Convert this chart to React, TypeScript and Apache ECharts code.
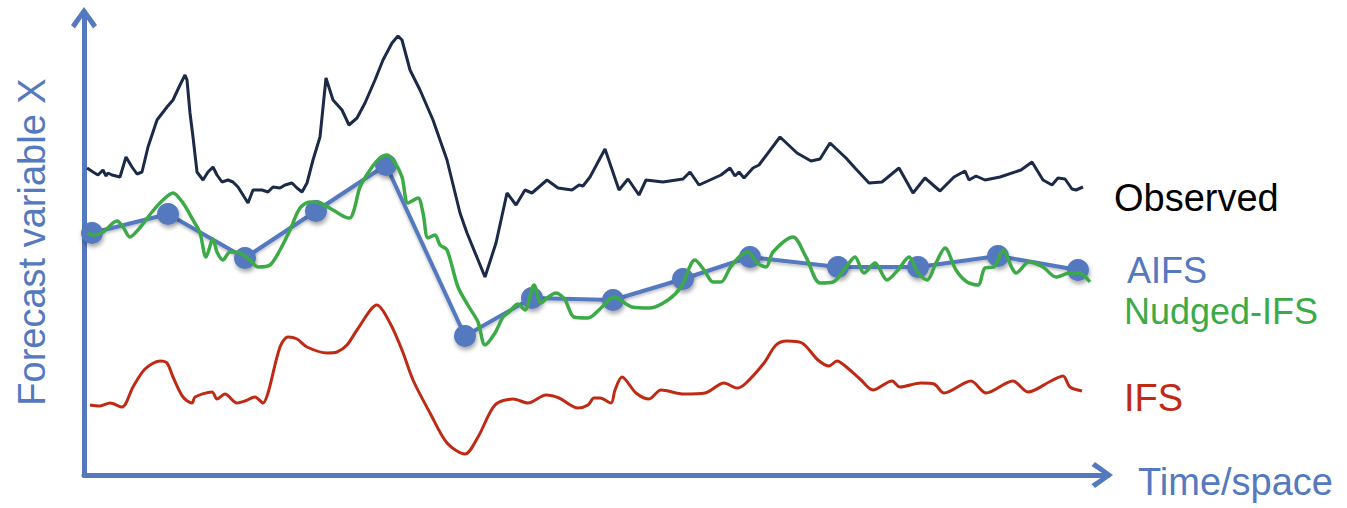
import React, { useEffect, useRef } from "react";
import * as echarts from "echarts";

// [time/space, forecast variable X]
const observed: [number, number][] = [
  [0, 304], [6, 300], [11, 297], [16, 302], [19, 296], [21, 299], [25, 297], [33, 295],
  [39, 315], [45, 305], [50, 298], [55, 300], [61, 325], [70, 352], [80, 365], [86, 372],
  [93, 387], [98, 397], [100, 392], [103, 359], [106, 335], [110, 300], [116, 292], [121, 300],
  [126, 305], [130, 297], [135, 290], [141, 292], [146, 290], [151, 285], [156, 277], [161, 269],
  [166, 282], [175, 282], [181, 280], [186, 285], [193, 284], [198, 287], [205, 289], [210, 284],
  [215, 280], [220, 289], [226, 312], [233, 335], [239, 394], [246, 372], [255, 362], [262, 347],
  [270, 354], [278, 369], [288, 392], [296, 412], [305, 429], [311, 436], [315, 432], [323, 402],
  [333, 382], [346, 352], [360, 312], [373, 259], [380, 239], [398, 195], [409, 229], [420, 279],
  [429, 267], [438, 282], [445, 279], [460, 292], [471, 284], [485, 282], [492, 287], [496, 286],
  [503, 295], [518, 323], [532, 282], [541, 293], [552, 277], [559, 292], [576, 290], [596, 293],
  [603, 300], [612, 287], [634, 297], [643, 304], [648, 296], [652, 300], [657, 294], [666, 304],
  [672, 307], [693, 335], [710, 319], [724, 311], [733, 313], [743, 329], [759, 314], [768, 304],
  [782, 289], [795, 290], [812, 304], [826, 279], [838, 294], [853, 281], [867, 295], [878, 301],
  [882, 292], [889, 296], [898, 292], [913, 295], [934, 302], [945, 310], [956, 292], [965, 287],
  [971, 294], [978, 293], [985, 283], [989, 282], [996, 285],
];

const aifs: [number, number][] = [
  [5, 239], [81, 258], [158, 214], [229, 261], [299, 307], [378, 136], [445, 174],
  [526, 172], [596, 193], [663, 215], [751, 205], [831, 205], [911, 216], [991, 202],
];

const nudgedIfs: [number, number][] = [
  [1, 239], [6, 237], [16, 240], [30, 251], [36, 245], [43, 235], [51, 242], [65, 260],
  [76, 272], [86, 279], [96, 269], [106, 252], [113, 239], [119, 215], [126, 233], [130, 220],
  [136, 212], [143, 220], [153, 219], [163, 212], [171, 205], [183, 207], [193, 222], [203, 242],
  [213, 264], [223, 270], [233, 269], [246, 262], [258, 255], [263, 254], [267, 262], [273, 285],
  [283, 302], [291, 312], [300, 317], [308, 309], [315, 295], [321, 269], [331, 274], [336, 259],
  [341, 234], [348, 237], [353, 227], [360, 222], [371, 185], [382, 165], [391, 150], [398, 127],
  [408, 139], [416, 155], [422, 160], [431, 168], [438, 162], [447, 187], [454, 169], [460, 174],
  [469, 179], [478, 172], [487, 155], [501, 154], [514, 164], [527, 175], [545, 165], [563, 164],
  [581, 172], [594, 185], [608, 212], [617, 202], [626, 190], [634, 190], [643, 204], [652, 215],
  [661, 220], [670, 209], [679, 205], [686, 220], [706, 235], [719, 215], [733, 189], [746, 190],
  [759, 205], [768, 215], [777, 199], [788, 209], [800, 192], [811, 202], [822, 215], [831, 199],
  [840, 192], [849, 209], [858, 224], [869, 202], [880, 190], [891, 187], [898, 204], [907, 205],
  [916, 222], [925, 204], [929, 199], [942, 210], [956, 205], [969, 195], [983, 199], [992, 199],
  [1003, 190],
];

const ifs: [number, number][] = [
  [3, 67], [13, 66], [23, 69], [35, 65], [46, 85], [58, 103], [73, 111], [80, 109],
  [86, 95], [96, 75], [105, 69], [108, 75], [125, 80], [130, 73], [138, 78], [150, 69],
  [158, 71], [168, 75], [176, 69], [181, 79], [193, 125], [201, 135], [210, 133], [220, 125],
  [240, 119], [250, 120], [260, 127], [270, 142], [290, 167], [303, 149], [315, 122], [326, 92],
  [343, 59], [360, 29], [378, 18], [391, 35], [408, 67], [426, 73], [441, 69], [459, 77],
  [472, 74], [491, 64], [501, 67], [507, 74], [513, 74], [524, 69], [528, 82], [535, 95],
  [549, 79], [562, 73], [574, 82], [597, 78], [618, 79], [637, 89], [650, 84], [658, 88],
  [677, 109], [689, 127], [700, 131], [715, 129], [731, 112], [742, 106], [750, 111], [757, 107],
  [773, 93], [786, 82], [805, 91], [813, 85], [834, 89], [847, 88], [857, 79], [884, 91],
  [899, 79], [926, 91], [941, 80], [964, 91], [976, 96], [983, 85], [995, 81],
];

const seriesNames = ["Observed", "AIFS", "Nudged-IFS", "IFS"];
const axisNames = ["Time/space", "Forecast variable X"];

const BLUE = "#5479BE";
const NAVY = "#1B2A47";
const GREEN = "#3DAA48";
const RED = "#BF2A14";
const FONT = "Liberation Sans, Arial, Helvetica, sans-serif";

const CHEVRON = "path://M13,0 L26,18 L22,21.5 L13,8 L4,21.5 L0,18 Z";

const axisCommon = {
  type: "value" as const,
  axisLine: {
    show: true,
    onZero: false,
    symbol: ["none", CHEVRON],
    symbolSize: [26, 21.5],
    symbolOffset: [0, -5.75],
    lineStyle: { color: BLUE, width: 5 },
  },
  axisTick: { show: false },
  axisLabel: { show: false },
  splitLine: { show: false },
};

const textStyle = (text: string, fill: string, align: string, size = 38) => ({
  text,
  fill,
  font: `${size}px ${FONT}`,
  lineHeight: 30,
  align,
  verticalAlign: "middle",
});

export default function App() {
  const ref = useRef<HTMLDivElement>(null);
  useEffect(() => {
    const chart = echarts.init(ref.current!, null, { renderer: "svg" });
    chart.setOption({
      animation: false,
      backgroundColor: "#ffffff",
      grid: { left: 84, right: 239, top: 12, bottom: 33, containLabel: false },
      xAxis: { ...axisCommon, min: -3, max: 1021 },
      yAxis: { ...axisCommon, min: -3, max: 460 },
      series: [
        {
          name: seriesNames[0],
          type: "line",
          data: observed,
          symbol: "none",
          lineStyle: { color: NAVY, width: 3 },
          z: 2,
        },
        {
          name: seriesNames[3],
          type: "line",
          data: ifs,
          smooth: 0.3,
          symbol: "none",
          lineStyle: { color: RED, width: 3 },
          z: 2,
        },
        {
          name: seriesNames[1],
          type: "line",
          data: aifs,
          symbol: "circle",
          symbolSize: 22,
          lineStyle: {
            color: BLUE,
            width: 4,
            shadowColor: "rgba(0,0,0,0.25)",
            shadowBlur: 3,
            shadowOffsetY: 2,
          },
          itemStyle: {
            color: BLUE,
            shadowColor: "rgba(0,0,0,0.35)",
            shadowBlur: 4,
            shadowOffsetX: 1,
            shadowOffsetY: 3,
          },
          z: 3,
        },
        {
          name: seriesNames[2],
          type: "line",
          data: nudgedIfs,
          smooth: 0.3,
          symbol: "none",
          lineStyle: { color: GREEN, width: 3.5 },
          z: 4,
        },
      ],
      graphic: [
        { type: "text", x: 1114, y: 198, style: textStyle(seriesNames[0], "#000000", "left") },
        { type: "text", x: 1127, y: 270, style: textStyle(seriesNames[1], BLUE, "left", 36) },
        { type: "text", x: 1124, y: 311, style: textStyle(seriesNames[2], GREEN, "left", 36) },
        { type: "text", x: 1124, y: 398, style: textStyle(seriesNames[3], RED, "left") },
        { type: "text", x: 1138, y: 482, style: textStyle(axisNames[0], BLUE, "left") },
        {
          type: "text",
          x: 32,
          y: 242,
          rotation: Math.PI / 2,
          style: textStyle(axisNames[1], BLUE, "center"),
        },
      ],
    });
    return () => chart.dispose();
  }, []);
  return (
    <div
      ref={ref}
      style={{ position: "absolute", left: 0, top: 0, width: 1347, height: 508 }}
    />
  );
}
